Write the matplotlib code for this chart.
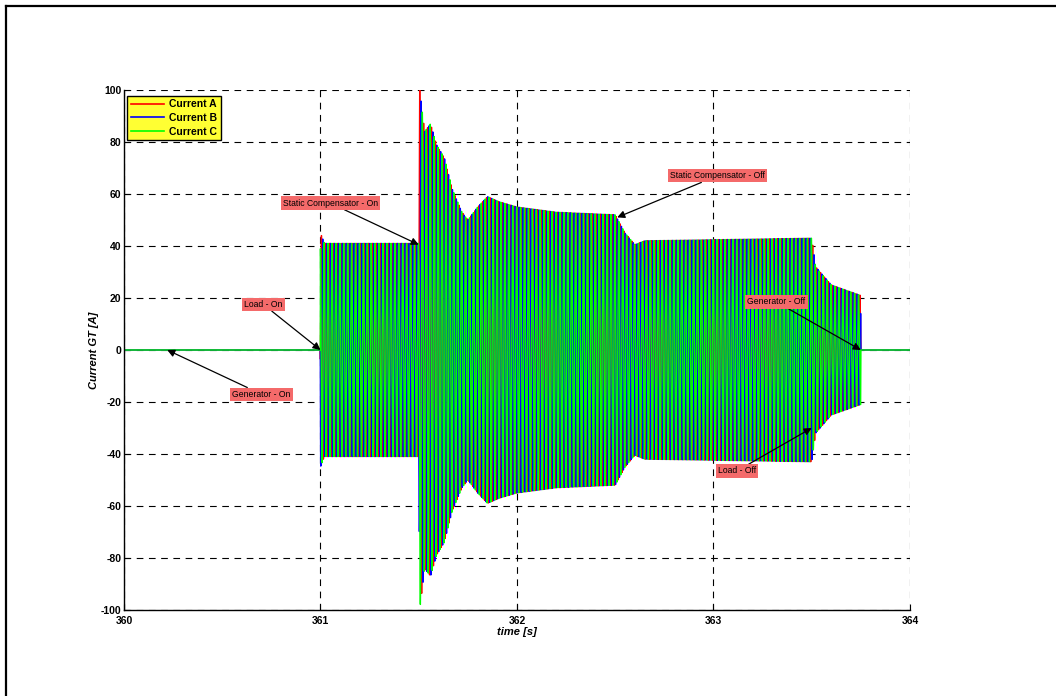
import numpy as np
import matplotlib
matplotlib.use("Agg")
import matplotlib.pyplot as plt
from matplotlib.lines import Line2D

plt.rcParams['axes.unicode_minus'] = False

# ----------------------------------------------------------------------
#  Data
# ----------------------------------------------------------------------
# peak envelope of the generator current (time [s], amplitude [A])
env_time = [360.0, 360.999, 361.0, 361.02, 361.5, 361.505, 361.53, 361.56,
            361.59, 361.63, 361.67, 361.72, 361.75, 361.8, 361.85, 361.91,
            362.0, 362.2, 362.5, 362.55, 362.6, 362.65, 363.5, 363.52,
            363.6, 363.749, 363.75, 364.0]
env_amp = [0.0, 0.0, 45.0, 41.0, 41.0, 100.0, 84.0, 87.0,
           79.0, 74.0, 62.0, 53.0, 50.0, 55.0, 59.0, 57.0,
           55.0, 53.0, 52.0, 45.0, 40.5, 42.0, 43.0, 32.0,
           25.0, 21.0, 0.0, 0.0]

freq = 50.0                      # grid frequency [Hz]
fs = 6000.0                      # sample rate [Hz]
phase_names = ['Current A', 'Current B', 'Current C']
phase_shift = [0.0, -2.0 * np.pi / 3.0, 2.0 * np.pi / 3.0]
phase_colors = ['#ff0000', '#0000ff', '#00ff00']

# event annotations: (label, event point, text position)
events = [
    ('Generator - On', (360.22, 0.0), (360.70, -17.0)),
    ('Load - On', (361.0, 0.0), (360.71, 17.5)),
    ('Static Compensator - On', (361.5, 40.5), (361.05, 56.5)),
    ('Static Compensator - Off', (362.51, 51.0), (363.02, 67.0)),
    ('Generator - Off', (363.75, 0.0), (363.32, 18.5)),
    ('Load - Off', (363.5, -30.0), (363.12, -46.5)),
]

# ----------------------------------------------------------------------
#  Build waveforms
# ----------------------------------------------------------------------
t = np.arange(360.0, 364.0, 1.0 / fs)
envelope = np.interp(t, env_time, env_amp)

fig = plt.figure(figsize=(10.56, 6.96), dpi=100)
ax = fig.add_axes([0.1174, 0.1236, 0.7443, 0.7471])

for name, shift, col in zip(phase_names, phase_shift, phase_colors):
    i_phase = envelope * np.sin(2.0 * np.pi * freq * t + shift)
    ax.plot(t, i_phase, color=col, lw=1.0, label=name)

ax.set_xlim(360, 364)
ax.set_ylim(-100, 100)
ax.set_xticks([360, 361, 362, 363, 364])
ax.set_yticks(np.arange(-100, 101, 20))
ax.grid(True, color='black', linestyle=(0, (6, 5)), lw=0.8)
ax.tick_params(direction='in', length=4, width=0.8, labelsize=7.5, pad=2)
ax.tick_params(axis='x', pad=4)
for lab in ax.get_xticklabels() + ax.get_yticklabels():
    lab.set_fontweight('bold')
    lab.set_fontfamily('Liberation Sans')
for side in ['top', 'right']:
    ax.spines[side].set_visible(False)
for side in ['left', 'bottom']:
    ax.spines[side].set_linewidth(1.0)

ax.set_xlabel('time [s]', fontsize=8, fontweight='bold', style='italic',
              family='Liberation Sans', labelpad=1)
ax.set_ylabel('Current GT [A]', fontsize=8, fontweight='bold', style='italic',
              family='Liberation Sans', labelpad=1)

handles = [Line2D([0], [0], color=c, lw=1.2) for c in phase_colors]
leg = ax.legend(handles, phase_names, loc='upper left',
                facecolor='#ffff33', edgecolor='black', framealpha=1.0,
                fancybox=False, borderpad=0.35, labelspacing=0.35,
                handlelength=3.2, handletextpad=0.5,
                bbox_to_anchor=(0.0, 0.995), borderaxespad=0.3,
                prop={'weight': 'bold', 'family': 'Liberation Sans', 'size': 7.5})
leg.get_frame().set_linewidth(1.0)

for label, xy, xytext in events:
    ax.annotate(label, xy=xy, xytext=xytext, fontsize=6.2,
                family='Liberation Sans', ha='center', va='center',
                bbox=dict(boxstyle='square,pad=0.25', fc='#f46a6a', ec='none'),
                arrowprops=dict(arrowstyle='-|>', color='black', lw=0.9,
                                mutation_scale=11, shrinkA=0, shrinkB=0))

# figure frame
fig.add_artist(plt.Line2D([0.0057, 0.0057], [0.0, 0.9914], color='black',
                          lw=1.6, transform=fig.transFigure))
fig.add_artist(plt.Line2D([0.0057, 1.0], [0.9914, 0.9914], color='black',
                          lw=1.6, transform=fig.transFigure))

fig.savefig('out.png', dpi=100)
